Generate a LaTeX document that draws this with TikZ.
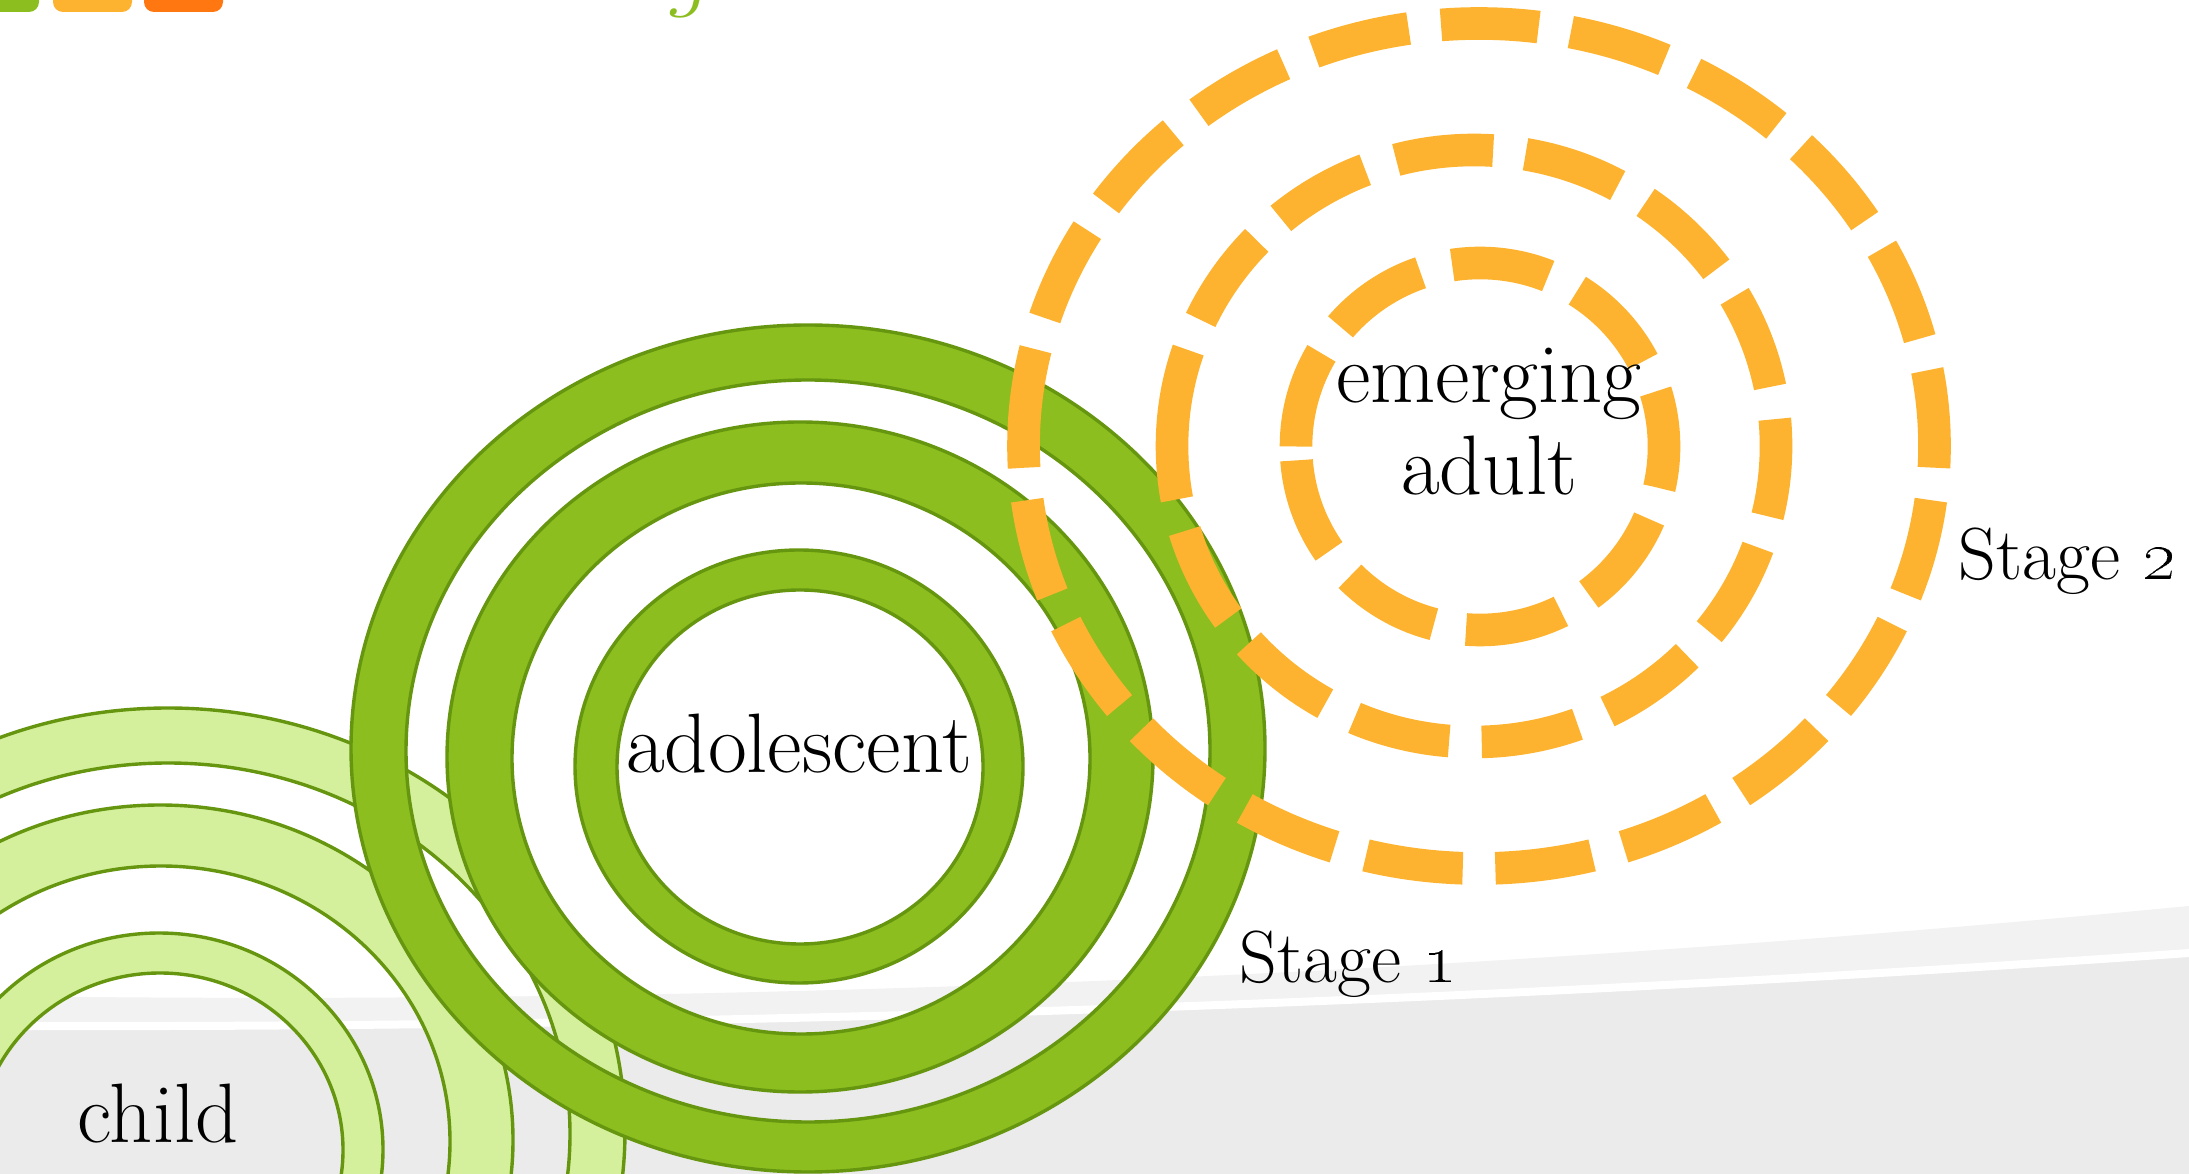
\documentclass[tikz,border=0pt]{standalone}
\usetikzlibrary{positioning}
\definecolor{leafgreen}{HTML}{8BBE1E}
\definecolor{leafline}{HTML}{66960F}
\definecolor{palegreen}{HTML}{D4F09C}
\definecolor{sunorange}{HTML}{FDB32F}
\definecolor{tabred}{HTML}{FF7711}
\definecolor{bandlight}{HTML}{F2F2F2}
\definecolor{banddark}{HTML}{EBEBEB}

\begin{document}
\begin{tikzpicture}[
x=0.01cm, y=-0.01cm,
ringband/.style={
  draw=leafline,
  line width=0.034cm,
  even odd rule},
dashring/.style={
  draw=sunorange,
  line width=0.326cm,
  dash pattern=on 0.977cm off 0.326cm},
lifetext/.style={
  font=\fontsize{24}{26.2}\selectfont,
  inner sep=0pt,
  anchor=base},
stagetext/.style={
  font=\fontsize{21}{25}\selectfont,
  inner sep=0pt,
  anchor=base west}
]
\useasboundingbox (0,0) rectangle (2189,1174);
\clip (0,0) rectangle (2189,1174);
% slide background
\fill[white] (0,0) rectangle (2189,1174);
\fill[bandlight] (0,996) .. controls (730,1006) and (1459,976) .. (2189,906)
  -- (2189,1174) -- (0,1174) -- cycle;
\fill[banddark] (0,1026) .. controls (730,1028) and (1459,1004) .. (2189,953)
  -- (2189,1174) -- (0,1174) -- cycle;
\draw[white, line width=0.08cm] (0,1026) .. controls (730,1028) and (1459,1004) .. (2189,953);
% tabs and the cut title
\fill[leafgreen, rounded corners=0.1cm] (-40,-40) rectangle (39,12);
\fill[sunorange, rounded corners=0.1cm] (53,-40) rectangle (132,12);
\fill[tabred, rounded corners=0.1cm] (144,-40) rectangle (223,12);
\node[text=leafgreen, font=\fontsize{26}{26}\selectfont\itshape, inner sep=0pt, anchor=base] (titleg) at (686,0) {g};
% child
\begin{scope}[shift={(-640,383)}]
\foreach \cx/\cy/\ra/\rb/\cxi/\cyi/\rc/\rd in
  {808/748.5/457/423.5/808/751/402/371,
   800/757/353/335/801/758.5/289/275.5,
   799/766.5/224/216.5/800/767/183/177}
  \filldraw[ringband, fill=palegreen] (\cx,\cy) ellipse [x radius=\ra, y radius=\rb]
    (\cxi,\cyi) ellipse [x radius=\rc, y radius=\rd];
\end{scope}
% adolescent
\foreach \cx/\cy/\ra/\rb/\cxi/\cyi/\rc/\rd in
  {808/748.5/457/423.5/808/751/402/371,
   800/757/353/335/801/758.5/289/275.5,
   799/766.5/224/216.5/800/767/183/177}
  \filldraw[ringband, fill=leafgreen] (\cx,\cy) ellipse [x radius=\ra, y radius=\rb]
    (\cxi,\cyi) ellipse [x radius=\rc, y radius=\rd];
% emerging adult
\foreach \cx/\cy/\ra/\rb in {1479/446/455.5/422.5, 1474/446/302/296, 1480/446.5/184/183.5}
  \draw[dashring] ({\cx-\ra},\cy) arc [start angle=180, end angle=540, x radius=\ra, y radius=\rb];
\node[lifetext] (child) at (158,1142) {child};
\node[lifetext] (adol) at (799,773) {adolescent};
\node[lifetext, align=center] (emadult) at (1489,495) {emerging\\adult};
\node[stagetext] (stage1) at (1239,982) {Stage \oldstylenums{1}};
\node[stagetext] (stage2) at (1958,580) {Stage \oldstylenums{2}};
\end{tikzpicture}
\end{document}
